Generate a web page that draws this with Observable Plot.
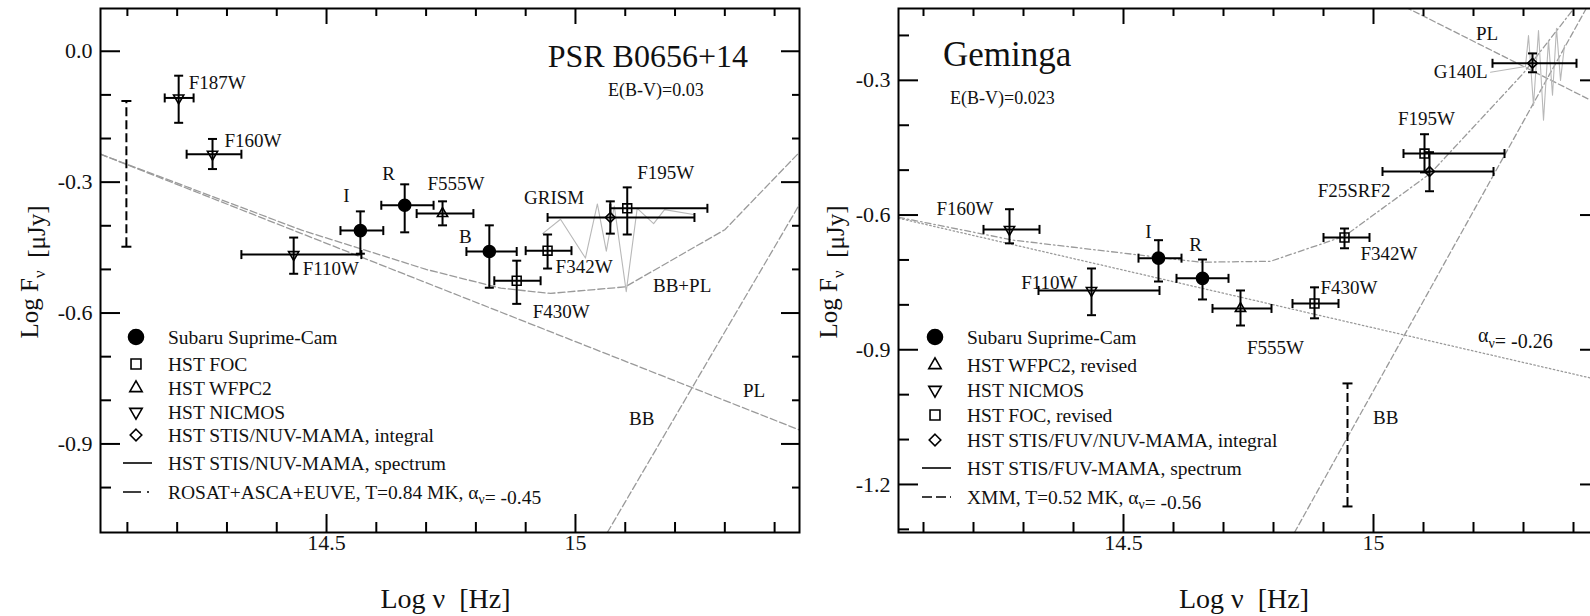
<!DOCTYPE html>
<html>
<head>
<meta charset="utf-8">
<script src="https://cdn.jsdelivr.net/npm/d3@7"></script>
<script src="https://cdn.jsdelivr.net/npm/@observablehq/plot@0.6"></script>
<style>
  body { margin: 0; background: #fff; overflow: hidden; }
  #wrap { position: relative; width: 1590px; height: 616px; overflow: hidden; font-family: "Liberation Serif", serif; }
  #wrap svg { position: absolute; top: 0; font-family: "Liberation Serif", serif; }
</style>
</head>
<body>
<div id="wrap"></div>
<script>
// ---------- PSR B0656+14 : log nu [Hz] vs log F_nu [microJy] ----------
const psrSubaru = [
  {band: "I", nu: 14.568, f: -0.411, nuLo: 14.528, nuHi: 14.614, fLo: -0.464, fHi: -0.367},
  {band: "R", nu: 14.657, f: -0.353, nuLo: 14.610, nuHi: 14.715, fLo: -0.415, fHi: -0.305},
  {band: "B", nu: 14.827, f: -0.459, nuLo: 14.781, nuHi: 14.882, fLo: -0.542, fHi: -0.399}
];
const psrFOC = [
  {band: "F430W", nu: 14.882, f: -0.526, nuLo: 14.837, nuHi: 14.930, fLo: -0.579, fHi: -0.480},
  {band: "F342W", nu: 14.944, f: -0.457, nuLo: 14.900, nuHi: 14.992, fLo: -0.498, fHi: -0.420},
  {band: "F195W", nu: 15.104, f: -0.360, nuLo: 15.070, nuHi: 15.265, fLo: -0.420, fHi: -0.312}
];
const psrWFPC2 = [
  {band: "F555W", nu: 14.733, f: -0.372, nuLo: 14.681, nuHi: 14.795, fLo: -0.399, fHi: -0.344}
];
const psrNICMOS = [
  {band: "F187W", nu: 14.203, f: -0.107, nuLo: 14.175, nuHi: 14.233, fLo: -0.164, fHi: -0.056},
  {band: "F160W", nu: 14.271, f: -0.236, nuLo: 14.219, nuHi: 14.329, fLo: -0.270, fHi: -0.201},
  {band: "F110W", nu: 14.434, f: -0.466, nuLo: 14.329, nuHi: 14.570, fLo: -0.510, fHi: -0.427}
];
const psrSTIS = [
  {band: "NUV", nu: 15.070, f: -0.381, nuLo: 14.944, nuHi: 15.239, fLo: -0.418, fHi: -0.344}
];
// STIS/NUV-MAMA grism spectrum
const psrGrism = [
  {nu: 14.934, f: -0.418}, {nu: 14.970, f: -0.385}, {nu: 15.020, f: -0.474},
  {nu: 15.044, f: -0.350}, {nu: 15.062, f: -0.458}, {nu: 15.078, f: -0.355},
  {nu: 15.102, f: -0.551}, {nu: 15.124, f: -0.360}, {nu: 15.157, f: -0.395},
  {nu: 15.179, f: -0.363}, {nu: 15.237, f: -0.374}
];
// X-ray model extrapolations (ROSAT+ASCA+EUVE)
const psrPL = [{nu: 14.046, f: -0.236}, {nu: 15.450, f: -0.868}];
const psrBB = [{nu: 15.064, f: -1.103}, {nu: 15.450, f: -0.351}];
const psrBBPL = [
  {nu: 14.046, f: -0.236}, {nu: 14.450, f: -0.410}, {nu: 14.700, f: -0.500},
  {nu: 14.850, f: -0.543}, {nu: 14.950, f: -0.555}, {nu: 15.100, f: -0.540},
  {nu: 15.300, f: -0.409}, {nu: 15.452, f: -0.229}
];
const psrPLRange = [{nu: 14.098, fLo: -0.448, fHi: -0.114}];

// ---------- Geminga ----------
const gemSubaru = [
  {band: "I", nu: 14.570, f: -0.696, nuLo: 14.530, nuHi: 14.616, fLo: -0.748, fHi: -0.656},
  {band: "R", nu: 14.658, f: -0.741, nuLo: 14.606, nuHi: 14.710, fLo: -0.788, fHi: -0.699}
];
const gemWFPC2 = [
  {band: "F555W", nu: 14.734, f: -0.808, nuLo: 14.678, nuHi: 14.796, fLo: -0.846, fHi: -0.768}
];
const gemNICMOS = [
  {band: "F160W", nu: 14.272, f: -0.632, nuLo: 14.220, nuHi: 14.332, fLo: -0.663, fHi: -0.587},
  {band: "F110W", nu: 14.436, f: -0.768, nuLo: 14.330, nuHi: 14.572, fLo: -0.823, fHi: -0.719}
];
const gemFOC = [
  {band: "F430W", nu: 14.882, f: -0.797, nuLo: 14.838, nuHi: 14.930, fLo: -0.830, fHi: -0.761},
  {band: "F342W", nu: 14.942, f: -0.650, nuLo: 14.900, nuHi: 14.992, fLo: -0.674, fHi: -0.630},
  {band: "F195W", nu: 15.102, f: -0.463, nuLo: 15.060, nuHi: 15.262, fLo: -0.505, fHi: -0.420}
];
const gemSTIS = [
  {band: "F25SRF2", nu: 15.112, f: -0.503, nuLo: 15.018, nuHi: 15.240, fLo: -0.547, fHi: -0.460},
  {band: "G140L", nu: 15.318, f: -0.262, nuLo: 15.238, nuHi: 15.406, fLo: -0.282, fHi: -0.240}
];
// STIS/FUV-MAMA G140L spectrum
const gemFUV = [
  {nu: 15.234, f: -0.282}, {nu: 15.304, f: -0.269}, {nu: 15.310, f: -0.200},
  {nu: 15.320, f: -0.356}, {nu: 15.330, f: -0.189}, {nu: 15.340, f: -0.389},
  {nu: 15.350, f: -0.211}, {nu: 15.358, f: -0.333}, {nu: 15.366, f: -0.184},
  {nu: 15.374, f: -0.300}, {nu: 15.382, f: -0.222}
];
const gemOptPL = [{nu: 14.050, f: -0.607}, {nu: 15.450, f: -0.967}];
const gemXrayPL = [{nu: 15.000, f: -0.101}, {nu: 15.450, f: -0.353}];
const gemBB = [{nu: 14.842, f: -1.307}, {nu: 15.450, f: -0.091}];
const gemBBPL = [
  {nu: 14.050, f: -0.605}, {nu: 14.280, f: -0.656}, {nu: 14.654, f: -0.705},
  {nu: 14.794, f: -0.703}, {nu: 14.942, f: -0.647}, {nu: 15.114, f: -0.507},
  {nu: 15.300, f: -0.284}, {nu: 15.398, f: -0.144}, {nu: 15.420, f: -0.105}
];
const gemPLRange = [{nu: 14.948, fLo: -1.249, fHi: -0.975}];

// ---------- axis ticks ----------
const xMajorTicks = [14.5, 15.0];
const xMinorTicks = [14.1, 14.2, 14.3, 14.4, 14.6, 14.7, 14.8, 14.9, 15.1, 15.2, 15.3, 15.4];
const psrYMajor = [0.0, -0.3, -0.6, -0.9];
const psrYMinor = [-0.1, -0.2, -0.4, -0.5, -0.7, -0.8, -1.0];
const gemYMajor = [-0.3, -0.6, -0.9, -1.2];
const gemYMinor = [-0.2, -0.4, -0.5, -0.7, -0.8, -1.0, -1.1, -1.3];

// ---------- drawing ----------
const FONT = "Liberation Serif";
const INK = "#111";
const MODEL = "#9a9a9a";

const vbar = {draw(ctx, size) { const h = Math.sqrt(size / Math.PI); ctx.moveTo(0, -h); ctx.lineTo(0, h); }};
const hbar = {draw(ctx, size) { const h = Math.sqrt(size / Math.PI); ctx.moveTo(-h, 0); ctx.lineTo(h, 0); }};
const triDown = {draw(ctx, size) {
  const y = -Math.sqrt(size / (Math.sqrt(3) * 3));
  ctx.moveTo(0, -y * 2); ctx.lineTo(-Math.sqrt(3) * y, y); ctx.lineTo(Math.sqrt(3) * y, y); ctx.closePath();
}};

const STYLE = {
  subaru: {symbol: "circle", r: 6, fill: "black"},
  foc: {symbol: "square", r: 5, fill: "none"},
  wfpc2: {symbol: "triangle", r: 3.8, fill: "none"},
  nicmos: {symbol: triDown, r: 3.8, fill: "none"},
  stis: {symbol: "diamond2", r: 4.4, fill: "none"}
};
const LEGEND_STYLE = {
  subaru: {symbol: d3.symbolCircle, r: 7.5, fill: "black"},
  foc: {symbol: d3.symbolSquare, r: 5.6, fill: "none"},
  wfpc2: {symbol: d3.symbolTriangle, r: 4.6, fill: "none"},
  nicmos: {symbol: triDown, r: 4.6, fill: "none"},
  stis: {symbol: d3.symbolDiamond2, r: 5.2, fill: "none"}
};

function addText(g, x, y, segs, {size = 19, anchor = "start", rotate = 0} = {}) {
  const t = g.append("text")
    .attr("transform", `translate(${x},${y}) rotate(${rotate})`)
    .attr("text-anchor", anchor)
    .attr("font-family", FONT)
    .attr("font-size", size)
    .attr("fill", INK)
    .attr("dy", "0.35em")
    .style("white-space", "pre");
  const parts = typeof segs === "string" ? [segs] : segs;
  for (const s of parts) {
    if (typeof s === "string") t.append("tspan").text(s);
    else {
      const sh = size * 0.28;
      t.append("tspan").attr("dy", sh).attr("font-size", size * 0.7).text(s.sub);
      t.append("tspan").attr("dy", -sh).text("");
    }
  }
  return t;
}

function drawPanel(p) {
  const W = p.width - p.ml - p.mr, H = p.height - p.mt - p.mb;
  const pts = p.groups.flatMap(g => g.data);
  const fmtY = d => (Math.abs(d) < 1e-9 ? 0 : d).toFixed(1);
  const fmtX = d => (d === 15 ? "15" : String(d));
  const marks = [];

  // model curves and spectrum
  for (const c of p.curves) {
    marks.push(Plot.line(c.data, {x: "nu", y: "f", stroke: MODEL, strokeWidth: 1.3, strokeDasharray: c.dash, clip: true}));
  }
  marks.push(Plot.line(p.spectrum, {x: "nu", y: "f", stroke: "#b8b8b8", strokeWidth: 1.1, clip: true}));

  // extrapolation uncertainty bar
  marks.push(Plot.ruleX(p.range, {x: "nu", y1: "fLo", y2: "fHi", stroke: "black", strokeWidth: 2, strokeDasharray: "9,4"}));
  marks.push(Plot.dot(p.range, {x: "nu", y: "fLo", symbol: hbar, r: 5, stroke: "black", strokeWidth: 2}));
  marks.push(Plot.dot(p.range, {x: "nu", y: "fHi", symbol: hbar, r: 5, stroke: "black", strokeWidth: 2}));

  // error bars with caps
  marks.push(Plot.ruleY(pts, {y: "f", x1: "nuLo", x2: "nuHi", stroke: "black", strokeWidth: 2}));
  marks.push(Plot.ruleX(pts, {x: "nu", y1: "fLo", y2: "fHi", stroke: "black", strokeWidth: 2}));
  marks.push(Plot.dot(pts, {x: "nuLo", y: "f", symbol: vbar, r: 4.5, stroke: "black", strokeWidth: 2}));
  marks.push(Plot.dot(pts, {x: "nuHi", y: "f", symbol: vbar, r: 4.5, stroke: "black", strokeWidth: 2}));
  marks.push(Plot.dot(pts, {x: "nu", y: "fLo", symbol: hbar, r: 4.5, stroke: "black", strokeWidth: 2}));
  marks.push(Plot.dot(pts, {x: "nu", y: "fHi", symbol: hbar, r: 4.5, stroke: "black", strokeWidth: 2}));

  // instrument markers
  for (const g of p.groups) {
    const s = STYLE[g.kind];
    marks.push(Plot.dot(g.data, {x: "nu", y: "f", symbol: s.symbol, r: s.r, fill: s.fill, stroke: "black", strokeWidth: 1.6}));
  }

  // band labels next to their points
  for (const [band, [dx, dy, anchor]] of Object.entries(p.labelOffsets)) {
    marks.push(Plot.text(pts.filter(d => d.band === band), {
      x: "nu", y: "f", text: "band", dx, dy, textAnchor: anchor,
      fontSize: 19, fontFamily: FONT, fill: INK
    }));
  }

  // frame and inward ticks on all four sides
  marks.push(Plot.frame({stroke: "black", strokeWidth: 2}));
  marks.push(Plot.ruleX(xMajorTicks, {x: d => d, insetTop: H - 18, stroke: "black", strokeWidth: 2}));
  marks.push(Plot.ruleX(xMinorTicks, {x: d => d, insetTop: H - 10, stroke: "black", strokeWidth: 2}));
  marks.push(Plot.ruleX(xMajorTicks, {x: d => d, insetBottom: H - 16, stroke: "black", strokeWidth: 2}));
  marks.push(Plot.ruleX(xMinorTicks, {x: d => d, insetBottom: H - 8, stroke: "black", strokeWidth: 2}));
  marks.push(Plot.ruleY(p.yMajor, {y: d => d, insetRight: W - 20, stroke: "black", strokeWidth: 2}));
  marks.push(Plot.ruleY(p.yMinor, {y: d => d, insetRight: W - 11, stroke: "black", strokeWidth: 2}));
  marks.push(Plot.ruleY(p.yMajor, {y: d => d, insetLeft: W - 18, stroke: "black", strokeWidth: 2}));
  marks.push(Plot.ruleY(p.yMinor, {y: d => d, insetLeft: W - 7, stroke: "black", strokeWidth: 2}));

  // tick labels
  marks.push(Plot.text(xMajorTicks, {x: d => d, frameAnchor: "bottom", dy: 17, text: fmtX, fontSize: 22, fontFamily: FONT, fill: INK}));
  marks.push(Plot.text(p.yMajor, {y: d => d, frameAnchor: "left", dx: -8, textAnchor: "end", text: fmtY, fontSize: 22, fontFamily: FONT, fill: INK}));

  const svg = Plot.plot({
    width: p.width, height: p.height,
    marginLeft: p.ml, marginRight: p.mr, marginTop: p.mt, marginBottom: p.mb,
    x: {domain: p.xDomain, axis: null},
    y: {domain: p.yDomain, axis: null},
    style: {fontFamily: FONT, fontSize: "19px", color: INK, background: "transparent", overflow: "visible"},
    marks
  });

  // titles, model labels, axis titles and legend
  const g = d3.select(svg).append("g");
  for (const a of p.annotations) addText(g, a.x, a.y, a.text, {size: a.size ?? 19, anchor: a.anchor ?? "start"});
  addText(g, p.yTitleX, 272, ["Log F", {sub: "ν"}, "  [μJy]"], {size: 25, anchor: "middle", rotate: -90});
  addText(g, p.ml + W / 2 - 4, 598, "Log ν  [Hz]", {size: 28, anchor: "middle"});

  const lg = g.append("g");
  p.legend.forEach((e, i) => {
    const y = p.legendRows[i];
    if (e.kind) {
      const s = LEGEND_STYLE[e.kind];
      lg.append("path")
        .attr("transform", `translate(${p.legendX},${y})`)
        .attr("d", d3.symbol(s.symbol, Math.PI * s.r * s.r)())
        .attr("fill", s.fill).attr("stroke", "black").attr("stroke-width", 1.6);
    } else {
      lg.append("line")
        .attr("x1", p.legendX - 13).attr("x2", p.legendX + 16).attr("y1", y).attr("y2", y)
        .attr("stroke", "black").attr("stroke-width", 1.6)
        .attr("stroke-dasharray", e.dash ?? null);
    }
    addText(lg, p.legendX + 32, y, e.text, {size: 19.5});
  });
  return svg;
}

const wrap = document.getElementById("wrap");

const left = drawPanel({
  width: 800, height: 616, ml: 100, mr: 1, mt: 8, mb: 84,
  xDomain: [14.046, 15.45], yDomain: [-1.103, 0.098],
  yMajor: psrYMajor, yMinor: psrYMinor,
  groups: [
    {kind: "nicmos", data: psrNICMOS},
    {kind: "wfpc2", data: psrWFPC2},
    {kind: "foc", data: psrFOC},
    {kind: "stis", data: psrSTIS},
    {kind: "subaru", data: psrSubaru}
  ],
  curves: [
    {data: psrPL, dash: "7,3"},
    {data: psrBB, dash: "7,3"},
    {data: psrBBPL, dash: "7,3"}
  ],
  spectrum: psrGrism,
  range: psrPLRange,
  labelOffsets: {
    F187W: [10, -15, "start"], F160W: [12, -13, "start"], F110W: [9, 14, "start"],
    I: [-14, -35, "middle"], R: [-16, -31, "middle"], F555W: [-15, -30, "start"],
    B: [-24, -15, "middle"], F430W: [16, 31, "start"], F342W: [8, 16, "start"],
    F195W: [10, -35, "start"]
  },
  annotations: [
    {text: "PSR B0656+14", x: 748, y: 56, size: 32, anchor: "end"},
    {text: "E(B-V)=0.03", x: 608, y: 90, size: 18},
    {text: "GRISM", x: 524, y: 197},
    {text: "BB+PL", x: 653, y: 285},
    {text: "PL", x: 743, y: 390},
    {text: "BB", x: 629, y: 418}
  ],
  yTitleX: 29,
  legendX: 136,
  legendRows: [337, 364, 388, 412, 435, 463, 492],
  legend: [
    {kind: "subaru", text: "Subaru Suprime-Cam"},
    {kind: "foc", text: "HST FOC"},
    {kind: "wfpc2", text: "HST WFPC2"},
    {kind: "nicmos", text: "HST NICMOS"},
    {kind: "stis", text: "HST STIS/NUV-MAMA, integral"},
    {text: "HST STIS/NUV-MAMA, spectrum"},
    {dash: "18,6,2,40", text: ["ROSAT+ASCA+EUVE, T=0.84 MK, α", {sub: "ν"}, "= -0.45"]}
  ]
});
left.style.left = "0px";
wrap.appendChild(left);

const right = drawPanel({
  width: 800, height: 616, ml: 98, mr: 2, mt: 8, mb: 84,
  xDomain: [14.05, 15.45], yDomain: [-1.307, -0.140],
  yMajor: gemYMajor, yMinor: gemYMinor,
  groups: [
    {kind: "nicmos", data: gemNICMOS},
    {kind: "wfpc2", data: gemWFPC2},
    {kind: "foc", data: gemFOC},
    {kind: "stis", data: gemSTIS},
    {kind: "subaru", data: gemSubaru}
  ],
  curves: [
    {data: gemOptPL, dash: "1.5,2.5"},
    {data: gemBBPL, dash: "6,3,1.5,3"},
    {data: gemXrayPL, dash: "6,3"},
    {data: gemBB, dash: "6,3"}
  ],
  spectrum: gemFUV,
  range: gemPLRange,
  labelOffsets: {
    F160W: [-16, -21, "end"], F110W: [-14, -8, "end"], I: [-10, -26, "middle"],
    R: [-7, -33, "middle"], F555W: [35, 39, "middle"], F430W: [6, -16, "start"],
    F342W: [16, 16, "start"], F25SRF2: [-39, 19, "end"], F195W: [2, -35, "middle"],
    G140L: [-45, 9, "end"]
  },
  annotations: [
    {text: "Geminga", x: 143, y: 54, size: 35},
    {text: "E(B-V)=0.023", x: 150, y: 98, size: 18},
    {text: "PL", x: 676, y: 33},
    {text: ["α", {sub: "ν"}, "= -0.26"], x: 678, y: 335, size: 20},
    {text: "BB", x: 573, y: 417}
  ],
  yTitleX: 28,
  legendX: 135,
  legendRows: [337, 365, 390, 415, 440, 468, 497],
  legend: [
    {kind: "subaru", text: "Subaru Suprime-Cam"},
    {kind: "wfpc2", text: "HST WFPC2, revised"},
    {kind: "nicmos", text: "HST NICMOS"},
    {kind: "foc", text: "HST FOC, revised"},
    {kind: "stis", text: "HST STIS/FUV/NUV-MAMA, integral"},
    {text: "HST STIS/FUV-MAMA, spectrum"},
    {dash: "10,4", text: ["XMM, T=0.52 MK, α", {sub: "ν"}, "= -0.56"]}
  ]
});
right.style.left = "800px";
wrap.appendChild(right);
</script>
</body>
</html>
